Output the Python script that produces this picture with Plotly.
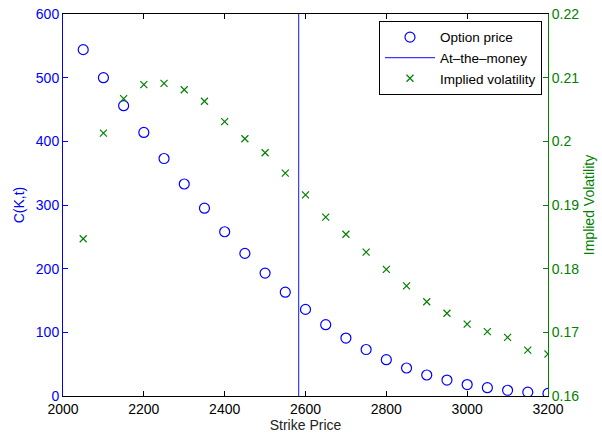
import plotly.graph_objects as go

strikes = [2050, 2100, 2150, 2200, 2250, 2300, 2350, 2400, 2450, 2500, 2550, 2600,
           2650, 2700, 2750, 2800, 2850, 2900, 2950, 3000, 3050, 3100, 3150, 3200]
option_price = [544, 500, 456, 414, 373, 333, 295, 258, 224, 193, 163, 136,
                112, 91, 73, 57, 44, 33, 25, 18, 13, 9, 6, 4]
implied_vol = [0.1847, 0.2013, 0.2067, 0.2089, 0.2091, 0.2081, 0.2063, 0.2031, 0.2004, 0.1982,
               0.1950, 0.1916, 0.1881, 0.1854, 0.1826, 0.1799, 0.1773, 0.1748, 0.1730, 0.1713,
               0.1701, 0.1692, 0.1672, 0.1666]
atm_strike = 2583
price_range = [0, 600]

BLUE = "#0000ff"
GREEN = "#008000"
FONT = "Liberation Sans, Arial, sans-serif"

fig = go.Figure()
fig.add_trace(go.Scatter(x=strikes, y=option_price, mode="markers", name="Option price",
                         marker=dict(symbol="circle-open", size=10, color=BLUE, line=dict(width=1.2, color=BLUE)),
                         yaxis="y"))
fig.add_trace(go.Scatter(x=[atm_strike, atm_strike], y=price_range, mode="lines", name="At\u2013the\u2013money",
                         line=dict(color="#3a3aff", width=1.2), yaxis="y"))
fig.add_trace(go.Scatter(x=strikes, y=implied_vol, mode="markers", name="Implied volatility",
                         marker=dict(symbol="x-thin-open", size=7, color=GREEN, line=dict(width=1.2, color=GREEN)),
                         yaxis="y2"))

fig.update_layout(
    width=602, height=436,
    margin=dict(l=63, r=54, t=14, b=40, autoexpand=False),
    paper_bgcolor="white", plot_bgcolor="white",
    font=dict(family=FONT, size=14, color="black"),
    showlegend=True,
    legend=dict(x=0.9876, y=0.982, xanchor="right", yanchor="top",
                bgcolor="white", bordercolor="black", borderwidth=1,
                font=dict(size=13.5), tracegroupgap=0, itemwidth=50),
    xaxis=dict(range=[2000, 3200], tickvals=[2000, 2200, 2400, 2600, 2800, 3000, 3200],
               automargin=False,
               showgrid=False, zeroline=False, showline=True, linecolor="black", linewidth=1,
               mirror="ticks", ticks="inside", ticklen=5, tickcolor="black",
               tickfont=dict(size=14, color="black"),
               title=dict(text="Strike Price", font=dict(size=14, color="#222"), standoff=4)),
    yaxis=dict(range=price_range, tickvals=[0, 100, 200, 300, 400, 500, 600],
               automargin=False,
               showgrid=False, zeroline=False, showline=True, linecolor=BLUE, linewidth=1,
               ticks="inside", ticklen=5, tickcolor=BLUE,
               tickfont=dict(size=14, color=BLUE),
               title=dict(text="C(K,t)", font=dict(size=14, color=BLUE), standoff=7)),
    yaxis2=dict(range=[0.16, 0.22], tickvals=[0.16, 0.17, 0.18, 0.19, 0.2, 0.21, 0.22],
                ticktext=["0.16", "0.17", "0.18", "0.19", "0.2", "0.21", "0.22"],
                automargin=False,
                overlaying="y", side="right", anchor="x",
                showgrid=False, zeroline=False, showline=True, linecolor=GREEN, linewidth=1,
                ticks="inside", ticklen=5, tickcolor=GREEN,
                tickfont=dict(size=14, color=GREEN),
                title=dict(text="Implied Volatility", font=dict(size=14, color=GREEN), standoff=5)),
)

fig.write_html("out.html")
